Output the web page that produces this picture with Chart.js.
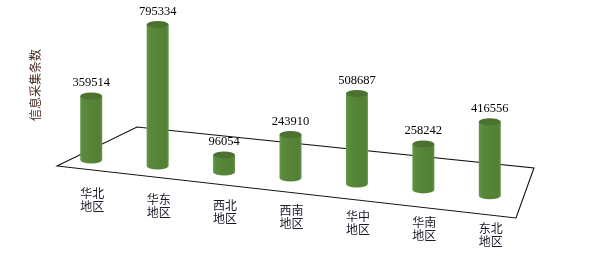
<!DOCTYPE html>
<html>
<head>
<meta charset="utf-8">
<title>信息采集条数</title>
<script src="https://cdn.jsdelivr.net/npm/chart.js@4/dist/chart.umd.min.js"></script>
<style>
	html, body { margin:0; padding:0; background:#fff; }
	#barGraph { display:block; }
</style>
</head>
<body>
<canvas id="barGraph" width="589" height="261"></canvas>
<script>
// 지역 / 수치
const regionLabels = ['华北地区', '华东地区', '西北地区', '西南地区', '华中地区', '华南地区', '东北地区'];
const collectCounts = [359514, 795334, 96054, 243910, 508687, 258242, 416556];
const yAxisTitle = '信息采集条数';
const yMax = 900000;

/**
 * 원통 + 바닥면 그리는 플러그인
 */
const cylinderPlugin = {
	id: 'cylinder',
	beforeDatasetsDraw(chart) {
		let ctx = chart.ctx;
		let area = chart.chartArea;
		// 바닥면 (평행사변형)
		ctx.save();
		ctx.strokeStyle = '#111';
		ctx.lineWidth = 1.1;
		ctx.beginPath();
		ctx.moveTo(area.left - 1, area.bottom + 6);
		ctx.lineTo(area.left + 79, area.bottom - 33);
		ctx.lineTo(area.right + 11, area.bottom + 8);
		ctx.lineTo(area.right - 7, area.bottom + 58);
		ctx.closePath();
		ctx.stroke();
		ctx.restore();

		// y축 제목
		ctx.save();
		ctx.translate(35, area.top + 85);
		ctx.rotate(-Math.PI / 2);
		ctx.font = '12px "Noto Sans CJK SC"';
		ctx.fillStyle = '#4a2a22';
		ctx.textAlign = 'center';
		ctx.textBaseline = 'middle';
		ctx.fillText(yAxisTitle, 0, 0);
		ctx.restore();
	},
	afterDatasetsDraw(chart) {
		let ctx = chart.ctx;
		let meta = chart.getDatasetMeta(0);
		let slope = 0.09; // 원근 기울기
		let x0 = meta.data[0].x;
		let rx = 11, ry = 3.5;

		meta.data.forEach((bar, i) => {
			let dy = slope * (bar.x - x0);
			let cx = bar.x;
			let top = bar.y + dy;
			let bot = bar.base + dy;

			// 몸통
			let grad = ctx.createLinearGradient(cx - rx, 0, cx + rx, 0);
			grad.addColorStop(0, '#67974a');
			grad.addColorStop(0.12, '#5a8a3b');
			grad.addColorStop(0.5, '#558437');
			grad.addColorStop(0.88, '#528035');
			grad.addColorStop(1, '#649446');
			ctx.save();
			ctx.fillStyle = grad;
			ctx.beginPath();
			ctx.moveTo(cx - rx, top);
			ctx.lineTo(cx - rx, bot);
			ctx.ellipse(cx, bot, rx, ry, 0, Math.PI, 0, true);
			ctx.lineTo(cx + rx, top);
			ctx.closePath();
			ctx.fill();

			// 윗면
			ctx.fillStyle = '#4b7230';
			ctx.beginPath();
			ctx.ellipse(cx, top, rx, ry, 0, 0, Math.PI * 2);
			ctx.fill();

			// 수치 라벨
			ctx.fillStyle = '#000';
			ctx.font = '12.5px "Liberation Serif"';
			ctx.textAlign = 'center';
			ctx.textBaseline = 'middle';
			ctx.fillText(String(collectCounts[i]), cx, top - 13);

			// 지역 라벨 (2줄)
			let name = regionLabels[i];
			ctx.fillStyle = '#1a1a2a';
			ctx.font = '12px "Noto Sans CJK SC"';
			ctx.fillText(name.slice(0, 2), cx + 1, bot + 33);
			ctx.fillText(name.slice(2), cx + 1, bot + 46);
			ctx.restore();
		});
	}
};

/**
 * 차트 옵션
 */
let config = {
	type: 'bar',
	data: {
		labels: regionLabels,
		datasets: [{
			label: yAxisTitle,
			data: collectCounts,
			backgroundColor: 'rgba(0,0,0,0)',
			borderWidth: 0,
			barThickness: 22
		}]
	},
	options: {
		responsive: false,
		maintainAspectRatio: false,
		animation: false,
		layout: {
			padding: { left: 58, right: 66, top: 0, bottom: 101 }
		},
		plugins: {
			legend: { display: false },
			tooltip: { enabled: false }
		},
		scales: {
			x: { display: false },
			y: { display: false, min: 0, max: yMax }
		}
	},
	plugins: [cylinderPlugin]
};

new Chart(document.getElementById('barGraph'), config);
</script>
</body>
</html>
